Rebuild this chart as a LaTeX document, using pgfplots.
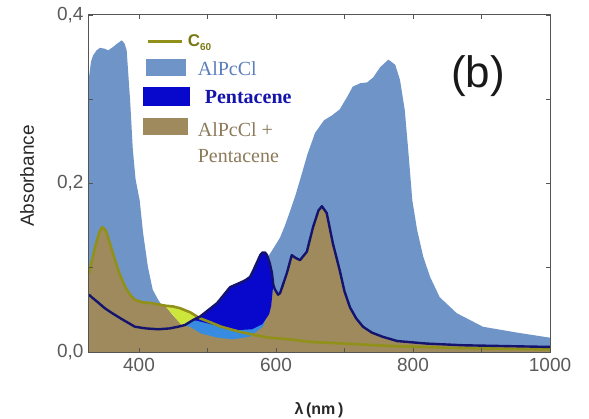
\documentclass[border=0pt]{standalone}
\usepackage{fontspec}
\setmainfont{Liberation Sans}
\newfontfamily\serifl{Liberation Serif}
\usepackage{pgfplots}
\pgfplotsset{compat=1.18}
\definecolor{steel}{RGB}{111,149,200}
\definecolor{azure}{RGB}{55,140,225}
\definecolor{pblue}{RGB}{8,8,205}
\definecolor{brownf}{RGB}{158,138,92}
\definecolor{ygreen}{RGB}{205,230,60}
\definecolor{olivec}{RGB}{145,145,25}
\definecolor{navyc}{RGB}{20,20,110}
\definecolor{axgray}{RGB}{85,85,85}
\definecolor{lblgray}{RGB}{90,90,90}
\definecolor{labdark}{RGB}{40,40,40}
\definecolor{steeltxt}{RGB}{90,125,190}
\definecolor{pentxt}{RGB}{20,20,170}
\definecolor{browntxt}{RGB}{140,122,90}
\definecolor{c60txt}{RGB}{120,120,20}
\begin{document}
\begin{tikzpicture}
\begin{axis}[
 scale only axis, width=461pt, height=337pt,
 xmin=327, xmax=1000, ymin=0, ymax=0.4,
 axis line style={draw=axgray, line width=1pt},
 xtick={400,600,800,1000}, xticklabels={400,600,800,1000},
 minor xtick={500,700,900},
 ytick={0,0.2,0.4}, yticklabels={{0,0},{0,2},{0,4}},
 minor ytick={0.1,0.3},
 tick style={draw=axgray, line width=0.8pt},
 major tick length=4pt, minor tick length=4pt,
 tick align=inside,
 ticklabel style={font=\fontsize{19}{19}\selectfont, text=lblgray},
 xticklabel style={yshift=-3pt},
 yticklabel style={xshift=-2pt},
 axis on top,
 legend style={at={(rel axis cs:0.111,0.955)}, anchor=north west, draw=none, fill=none,
   font=\serifl\fontsize{20}{26}\selectfont, row sep=8pt,
   nodes={inner sep=2.5pt}},
 legend cell align=left,
]
\coordinate (bl) at (rel axis cs:0,0);
% AlPcCl
\addplot[fill=steel, draw=none, forget plot] coordinates {
(327,0.326) (330,0.345) (333,0.352) (338,0.358) (343,0.361) (350,0.360) (355,0.358) (362,0.362) (368,0.366) (375,0.370) (379,0.366) (382,0.358) (387,0.299) (391,0.240) (395,0.205) (401,0.180) (406,0.141) (413,0.101) (420,0.074) (428,0.062) (438,0.050) (450,0.040) (470,0.028) (500,0.020) (530,0.020) (560,0.030) (575,0.060) (585,0.100) (590,0.115) (600,0.128) (606,0.136) (613,0.150) (620,0.166) (628,0.185) (635,0.204) (646,0.235) (657,0.260) (670,0.275) (682,0.281) (693,0.288) (704,0.303) (712,0.315) (723,0.319) (733,0.320) (742,0.326) (752,0.338) (764,0.347) (774,0.341) (781,0.323) (788,0.287) (793,0.240) (799,0.180) (806,0.145) (815,0.113) (825,0.089) (839,0.065) (864,0.046) (902,0.030) (952,0.023) (1000,0.017)
} \closedcycle;
% overlap region
\addplot[fill=azure, draw=none, forget plot] coordinates {
(466,0.032) (475,0.040) (500,0.040) (560,0.040) (585,0.045) (592,0.050) (593,0)
} \closedcycle;
% AlPcCl + Pentacene
\addplot[fill=brownf, draw=none, forget plot] coordinates {
(327,0.095) (328,0.097) (336,0.125) (342,0.142) (346,0.148) (350,0.146) (353,0.141) (359,0.125) (365,0.109) (372,0.092) (380,0.077) (387,0.068) (394,0.062) (405,0.059) (419,0.058) (438,0.055) (450,0.043) (463,0.032) (474,0.030) (490,0.022) (514,0.017) (537,0.015) (562,0.018) (581,0.030) (590,0.050) (596,0.074) (598,0.075) (603,0.068) (606,0.070) (611,0.082) (616,0.094) (623,0.115) (628,0.112) (635,0.109) (645,0.119) (654,0.148) (662,0.168) (667,0.173) (674,0.165) (683,0.129) (693,0.097) (700,0.072) (708,0.053) (717,0.040) (727,0.030) (740,0.023) (756,0.018) (777,0.013) (820,0.010) (873,0.008) (1000,0.006)
} \closedcycle;
% Pentacene
\addplot[fill=pblue, draw=none, forget plot] coordinates {
(479,0.038) (489,0.042) (500,0.049) (514,0.058) (524,0.068) (533,0.077) (547,0.082) (555,0.085) (562,0.089) (567,0.097) (572,0.106) (577,0.115) (580,0.118) (584,0.118) (587,0.115) (591,0.105) (594,0.094) (596,0.080)
(593,0.055) (590,0.045) (580,0.033) (565,0.027) (545,0.026) (520,0.030) (500,0.034) (485,0.037)
} -- cycle;
% C60 over bare region
\addplot[fill=ygreen, draw=none, forget plot] coordinates {
(437,0.056) (450,0.054) (460,0.052) (475,0.047) (487,0.041) (479,0.037) (467,0.032) (463,0.031)
} -- cycle;
% C60 line
\addplot[draw=olivec, line width=2.6pt, line join=round, forget plot] coordinates {
(327,0.093) (328,0.097) (336,0.125) (342,0.142) (346,0.148) (350,0.146) (353,0.141) (359,0.125) (365,0.109) (372,0.092) (380,0.077) (387,0.068) (394,0.062) (405,0.059) (419,0.058) (438,0.055) (450,0.054) (460,0.052) (475,0.047) (489,0.040) (505,0.035) (520,0.030) (547,0.024) (570,0.020) (590,0.017) (620,0.015) (650,0.012) (700,0.010) (770,0.007) (850,0.005) (1000,0.003)
};
% AlPcCl + Pentacene outline
\addplot[draw=navyc, line width=2.4pt, line join=round, forget plot] coordinates {
(327,0.068) (331,0.065) (340,0.059) (350,0.052) (361,0.046) (375,0.039) (394,0.030) (410,0.028) (428,0.027) (445,0.028) (457,0.030) (467,0.032) (479,0.038) (489,0.042) (500,0.049) (514,0.058) (524,0.068) (533,0.077) (547,0.082) (555,0.085) (562,0.089) (567,0.097) (572,0.106) (577,0.115) (580,0.118) (584,0.118) (587,0.115) (591,0.105) (594,0.094) (596,0.080) (598,0.075) (603,0.068) (606,0.070) (611,0.082) (616,0.094) (623,0.115) (628,0.112) (635,0.109) (645,0.119) (654,0.148) (662,0.168) (667,0.173) (674,0.165) (683,0.129) (693,0.097) (700,0.072) (708,0.053) (717,0.040) (727,0.030) (740,0.023) (756,0.018) (777,0.013) (820,0.010) (873,0.008) (1000,0.006)
};
\addlegendimage{legend image code/.code={\draw[olivec, line width=2.6pt] (5pt,0pt) -- (39pt,0pt); \path[draw=none,fill=none] (0pt,-8pt) rectangle (52pt,8pt);}}
\addlegendentry{\hspace{-10pt}\textcolor{c60txt}{\fontsize{17}{17}\selectfont\bfseries\fontspec{Liberation Sans}C\raisebox{-4pt}{\fontsize{10}{10}\selectfont 60}}}
\addlegendimage{legend image code/.code={\fill[steel,draw=none] (3pt,-7pt) rectangle (43pt,10pt); \path[draw=none,fill=none] (0pt,-8pt) rectangle (52pt,8pt);}}
\addlegendentry{\textcolor{steeltxt}{AlPcCl}}
\addlegendimage{legend image code/.code={\fill[pblue,draw=none] (0pt,-8pt) rectangle (47pt,11pt); \path[draw=none,fill=none] (0pt,-8pt) rectangle (52pt,8pt);}}
\addlegendentry{\hspace{7pt}\textcolor{pentxt}{\bfseries Pentacene}}
\addlegendimage{legend image code/.code={\fill[brownf,draw=none] (0pt,-7pt) rectangle (45pt,10pt); \path[draw=none,fill=none] (0pt,-8pt) rectangle (52pt,8pt);}}
\addlegendentry{\textcolor{browntxt}{\begin{tabular}[t]{@{}l@{}}AlPcCl +\\Pentacene\end{tabular}}}
\end{axis}
\node[font=\fontsize{44}{44}\selectfont, text=black!90] at ([shift={(389pt,276pt)}]bl) {(b)};
\node[rotate=90, font=\fontsize{19}{19}\selectfont, text=labdark] at ([shift={(-62pt,176pt)}]bl) {Absorbance};
\node[font=\fontsize{16}{16}\selectfont\bfseries, text=labdark] at ([shift={(230pt,-58pt)}]bl) {λ\,(nm\,)};
\pgfresetboundingbox
\path[use as bounding box] ([shift={(-89pt,-66pt)}]bl) rectangle ([shift={(500pt,352pt)}]bl);
\end{tikzpicture}
\end{document}
